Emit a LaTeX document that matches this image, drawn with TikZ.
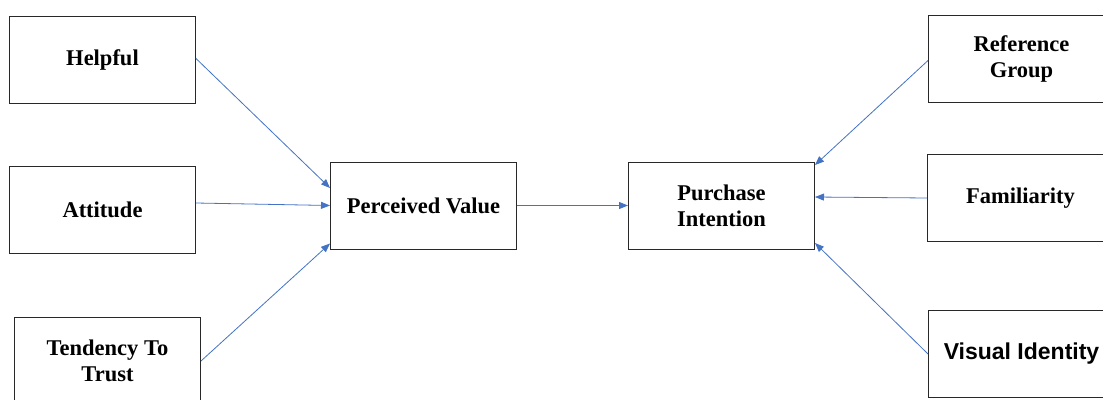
\documentclass[tikz,border=0pt]{standalone}
\usepackage{fontspec}
\setmainfont{Liberation Serif}
\newfontfamily\sansbold{Liberation Sans}
\usetikzlibrary{arrows.meta, positioning}
\definecolor{linkblue}{RGB}{68,114,196}
\definecolor{edge}{RGB}{40,40,40}
\tikzset{
  block/.style={rectangle, draw=edge, line width=1pt, fill=white,
                minimum width=186pt, minimum height=87pt, inner sep=0pt,
                align=center, font=\bfseries\fontsize{22.5}{26}\selectfont},
  arrow/.style={-{Triangle[length=9pt, width=7pt]}, line width=0.8pt, color=linkblue},
}
\begin{document}
\begin{tikzpicture}[x=1pt, y=-1pt]
        \clip (0,0) rectangle (1103,399);
        \node[block] (pv) at (423.5,205.5) {Perceived Value};
        \node[block, right=111pt of pv] (pi) {Purchase\\Intention};
        \node[block, left=134pt of pv, yshift=-4.5pt] (att) {Attitude};
        \node[block, above=62pt of att] (help) {Helpful};
        \node[block, below=63pt of att, xshift=5pt] (trust) {Tendency To\\Trust};
        \node[block, right=112pt of pi, yshift=7.5pt] (fam) {Familiarity};
        \node[block, above=51pt of fam, xshift=1pt] (ref) {Reference\\Group};
        \node[block, below=68pt of fam, xshift=1pt,
              font=\sansbold\bfseries\fontsize{23}{26}\selectfont] (vis) {Visual Identity};
        \draw[arrow] ([yshift=1.5pt]help.east) -- ([yshift=17.5pt]pv.west);
        \draw[arrow] ([yshift=7pt]att.east) -- (pv.west);
        \draw[arrow] (trust.east) -- ([yshift=-38pt]pv.west);
        \draw[arrow] (pv.east) -- (pi.west);
        \draw[arrow] ([yshift=-1.5pt]ref.west) -- ([yshift=40.5pt]pi.east);
        \draw[arrow] (fam.west) -- ([yshift=8.5pt]pi.east);
        \draw[arrow] (vis.west) -- ([yshift=-37.5pt]pi.east);
      \end{tikzpicture}
\end{document}
